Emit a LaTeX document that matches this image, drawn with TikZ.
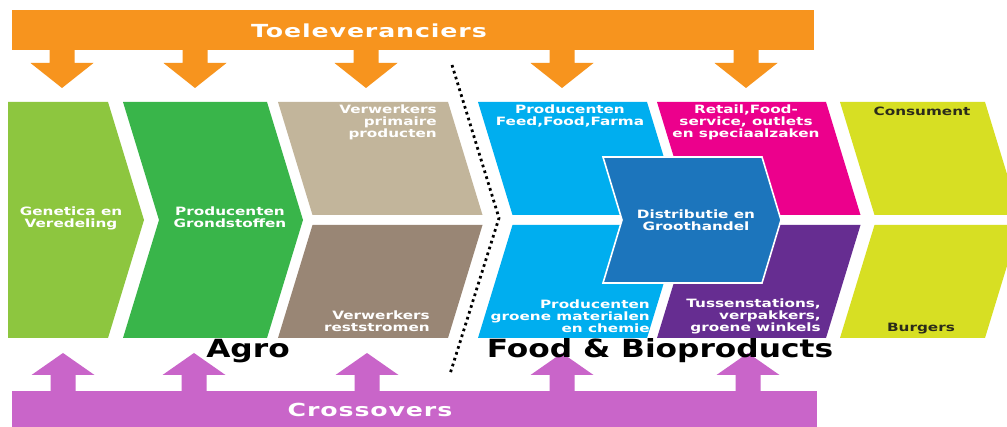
\documentclass[tikz,border=0pt]{standalone}
\usepackage{fontspec}
\newfontfamily\labfont[FakeStretch=1.33]{DejaVu Sans}
\newfontfamily\barfont[FakeStretch=1.4,LetterSpace=5]{DejaVu Sans}
\newfontfamily\bigfont[FakeStretch=1.25]{DejaVu Sans}
\definecolor{cOrange}{HTML}{F7941E}
\definecolor{cPink}{HTML}{C965C9}
\definecolor{cLGreen}{HTML}{8DC63F}
\definecolor{cDGreen}{HTML}{39B54A}
\definecolor{cTan}{HTML}{C2B59B}
\definecolor{cBrown}{HTML}{998675}
\definecolor{cCyan}{HTML}{00AEEF}
\definecolor{cMagenta}{HTML}{EC008C}
\definecolor{cDBlue}{HTML}{1C75BC}
\definecolor{cPurple}{HTML}{662D91}
\definecolor{cYellow}{HTML}{D7DF23}
\definecolor{cDark}{HTML}{2B2B1A}
\tikzset{
  lab/.style={font=\labfont\bfseries\fontsize{8.6}{9}\selectfont, text=white, inner sep=0pt, align=center},
  labr/.style={lab, align=right, anchor=east},
  darklab/.style={lab, text=cDark},
  bartext/.style={font=\barfont\bfseries\fontsize{13.5}{15}\selectfont, text=white, inner sep=0pt},
  bigtext/.style={font=\bigfont\bfseries\fontsize{18.75}{20}\selectfont, text=black, inner sep=0pt},
}
\begin{document}
\begin{tikzpicture}[x=0.75pt,y=-0.75pt]
\useasboundingbox (0,0) rectangle (1007,427);
\fill[white] (0,0) rectangle (1007,427);

% top bar with arrows
\fill[cOrange] (12,10) rectangle (814,50);
\foreach \c in {62,195,366,562,746}{
  \fill[cOrange] (\c-12.5,49) -- (\c-12.5,63) -- (\c-31.5,63) -- (\c,88) -- (\c+31.5,63) -- (\c+12.5,63) -- (\c+12.5,49) -- cycle;
}
% bottom bar with arrows
\fill[cPink] (12,391) rectangle (817,430);
\foreach \c in {63,194,367,562,748}{
  \fill[cPink] (\c-12.5,392) -- (\c-12.5,375) -- (\c-31.5,375) -- (\c,353) -- (\c+31.5,375) -- (\c+12.5,375) -- (\c+12.5,392) -- cycle;
}

% column 1 and 2
\fill[cLGreen] (8,102) -- (108,102) -- (144,220) -- (108,338) -- (8,338) -- cycle;
\fill[cDGreen] (123,102) -- (267,102) -- (303,220) -- (267,338) -- (123,338) -- (159,220) -- cycle;
% column 3
\fill[cTan] (278,102) -- (448,102) -- (482.5,215) -- (312.5,215) -- cycle;
\fill[cBrown] (312.5,225) -- (482.5,225) -- (448,338) -- (278,338) -- cycle;
% column 4
\fill[cCyan] (478,102) -- (647,102) -- (681.5,215) -- (512.5,215) -- cycle;
\fill[cCyan] (512.5,225) -- (681.5,225) -- (647,338) -- (478,338) -- cycle;
% column 5
\fill[cMagenta] (657,102) -- (826,102) -- (860.5,215) -- (691.5,215) -- cycle;
\fill[cPurple] (691.5,225) -- (860.5,225) -- (826,338) -- (657,338) -- cycle;
% column 6
\fill[cYellow] (840,102) -- (985,102) -- (1019.5,215) -- (874.5,215) -- cycle;
\fill[cYellow] (874.5,225) -- (1019.5,225) -- (985,338) -- (840,338) -- cycle;
% distributie
\filldraw[fill=cDBlue, draw=white, line width=1.2pt] (603,157) -- (762,157) -- (781,220) -- (762,283) -- (603,283) -- (622,220) -- cycle;

% dotted divider
\coordinate (dA) at (452,65);
\coordinate (dB) at (499,218);
\coordinate (dC) at (450,374);
\draw[black, line width=2.1pt, dash pattern=on 2.0pt off 2.6pt] (dA) -- (dB) -- (dC);

% labels
\node[lab] (gen) at (71,218) {Genetica en\\Veredeling};
\node[lab] (grond) at (230,217) {Producenten\\Grondstoffen};
\node[labr] (vprim) at (437,122.5) {Verwerkers\\primaire\\producten};
\node[labr] (vrest) at (430,321) {Verwerkers\\reststromen};
\node[lab] (pfeed) at (570,116) {Producenten\\Feed,Food,Farma};
\node[lab] (retail) at (746,122) {Retail,Food-\\service, outlets\\en speciaalzaken};
\node[darklab] (cons) at (922,111) {Consument};
\node[darklab] (burg) at (921,329) {Burgers};
\node[lab] (distr) at (696,220) {Distributie en\\Groothandel};
\node[labr] (pgroen) at (650,316) {Producenten\\groene materialen\\en chemie};
\node[labr] (tuss) at (821,316) {Tussenstations,\\verpakkers,\\groene winkels};

\node[bartext] (toe) at (369,31) {Toeleveranciers};
\node[bartext] (cross) at (370,410) {Crossovers};
\node[bigtext] (agro) at (248,351) {Agro};
\node[bigtext] (food) at (660,351) {Food \& Bioproducts};
\end{tikzpicture}
\end{document}
